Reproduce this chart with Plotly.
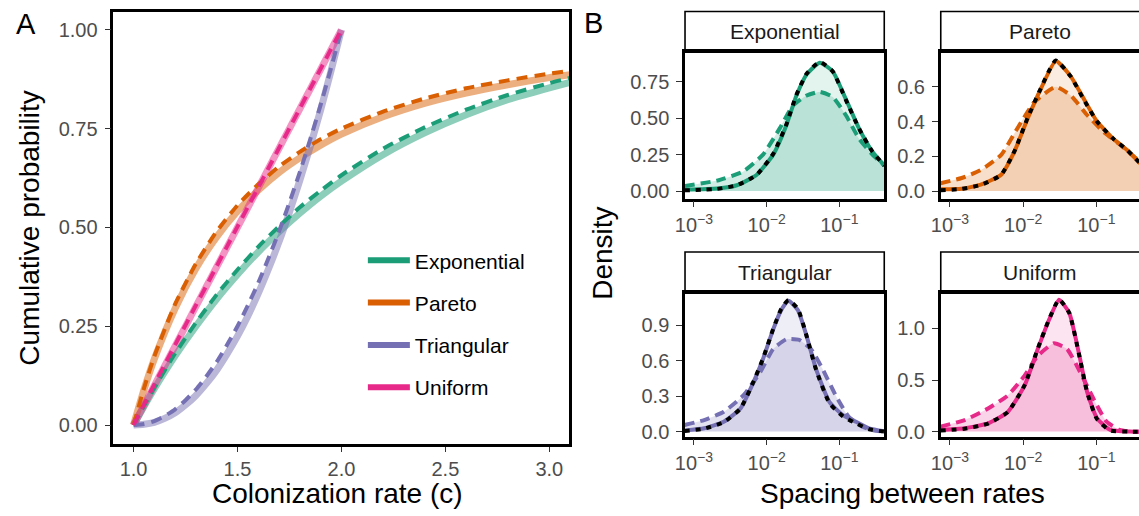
import plotly.graph_objects as go

# ---------------- Data ----------------
dists = ["Exponential", "Pareto", "Triangular", "Uniform"]
colors = {"Exponential": "#1B9E77", "Pareto": "#D95F02", "Triangular": "#7570B3", "Uniform": "#E7298A"}

# Panel A: cumulative probability vs colonization rate
a_x_long = [1.0, 1.05, 1.1, 1.2, 1.3, 1.4, 1.5, 1.6, 1.7, 1.8, 1.9, 2.0, 2.2, 2.4, 2.6, 2.8, 3.0, 3.1]
exp_cdf_theory = [0.0, 0.047, 0.092, 0.175, 0.250, 0.319, 0.381, 0.438, 0.489, 0.536, 0.579, 0.617, 0.684, 0.739, 0.785, 0.823, 0.853, 0.867]
exp_cdf_sample = [0.0, 0.049, 0.095, 0.181, 0.259, 0.330, 0.393, 0.451, 0.503, 0.551, 0.593, 0.632, 0.699, 0.753, 0.798, 0.835, 0.865, 0.878]
par_cdf_theory = [0.0, 0.089, 0.167, 0.295, 0.396, 0.476, 0.541, 0.594, 0.639, 0.676, 0.708, 0.736, 0.780, 0.814, 0.840, 0.861, 0.879, 0.886]
par_cdf_sample = [0.0, 0.093, 0.174, 0.306, 0.408, 0.490, 0.556, 0.609, 0.654, 0.691, 0.723, 0.750, 0.793, 0.826, 0.852, 0.872, 0.889, 0.896]

a_x_short = [1.0, 1.05, 1.1, 1.15, 1.2, 1.25, 1.3, 1.35, 1.4, 1.45, 1.5, 1.55, 1.6, 1.65, 1.7, 1.75, 1.8, 1.85, 1.9, 1.95, 2.0]
tri_cdf_theory = [0.0, 0.002, 0.007, 0.017, 0.031, 0.051, 0.075, 0.105, 0.139, 0.180, 0.225, 0.276, 0.333, 0.396, 0.464, 0.539, 0.619, 0.705, 0.797, 0.896, 1.0]
tri_cdf_sample = [0.0, 0.003, 0.010, 0.023, 0.040, 0.063, 0.090, 0.123, 0.160, 0.203, 0.250, 0.303, 0.360, 0.423, 0.490, 0.563, 0.640, 0.723, 0.810, 0.903, 1.0]
uni_cdf_theory = [0.0, 0.05, 0.10, 0.15, 0.20, 0.25, 0.30, 0.35, 0.40, 0.45, 0.50, 0.55, 0.60, 0.65, 0.70, 0.75, 0.80, 0.85, 0.90, 0.95, 1.0]
uni_cdf_sample = [0.0, 0.052, 0.103, 0.153, 0.203, 0.253, 0.303, 0.352, 0.402, 0.452, 0.502, 0.552, 0.601, 0.651, 0.701, 0.751, 0.801, 0.851, 0.901, 0.951, 1.0]

# Panel B: density of spacing between rates (log10 of spacing)
exp_log_s = [-3.13, -2.68, -2.41, -2.14, -1.91, -1.73, -1.59, -1.45, -1.27, -1.09, -0.91, -0.73, -0.545, -0.38]
exp_dens_theory = [0.01, 0.018, 0.04, 0.11, 0.25, 0.45, 0.655, 0.80, 0.88, 0.82, 0.63, 0.43, 0.27, 0.175]
exp_dens_ref = [0.005, 0.015, 0.04, 0.11, 0.255, 0.455, 0.66, 0.805, 0.885, 0.82, 0.625, 0.43, 0.27, 0.175]
exp_log_e = [-3.13, -2.68, -2.32, -2.05, -1.82, -1.64, -1.45, -1.27, -1.09, -0.91, -0.73, -0.545, -0.38]
exp_dens_sample = [0.035, 0.072, 0.135, 0.25, 0.43, 0.585, 0.655, 0.68, 0.645, 0.52, 0.36, 0.25, 0.175]

par_log_s = [-3.13, -2.84, -2.57, -2.30, -2.12, -1.94, -1.76, -1.555, -1.35, -1.17, -0.99, -0.765, -0.58, -0.38]
par_dens_theory = [0.01, 0.013, 0.038, 0.094, 0.227, 0.416, 0.587, 0.748, 0.66, 0.53, 0.40, 0.30, 0.236, 0.15]
par_dens_ref = [0.005, 0.012, 0.036, 0.094, 0.228, 0.42, 0.59, 0.752, 0.66, 0.525, 0.40, 0.30, 0.236, 0.15]
par_log_e = [-3.13, -2.84, -2.57, -2.30, -2.08, -1.85, -1.555, -1.35, -1.12, -0.90, -0.67, -0.38]
par_dens_sample = [0.045, 0.075, 0.123, 0.208, 0.36, 0.51, 0.60, 0.55, 0.435, 0.34, 0.265, 0.16]

tri_log_s = [-3.13, -2.86, -2.59, -2.36, -2.18, -2.05, -1.91, -1.80, -1.70, -1.57, -1.45, -1.32, -1.135, -0.95, -0.77, -0.59, -0.38]
tri_dens_theory = [0.01, 0.028, 0.084, 0.196, 0.42, 0.615, 0.867, 1.03, 1.11, 1.03, 0.81, 0.53, 0.25, 0.14, 0.084, 0.028, 0.003]
tri_dens_ref = [0.005, 0.025, 0.08, 0.196, 0.425, 0.62, 0.87, 1.04, 1.115, 1.04, 0.81, 0.525, 0.24, 0.13, 0.07, 0.02, 0.0]
tri_log_e = [-3.13, -2.86, -2.59, -2.32, -2.09, -1.91, -1.73, -1.55, -1.39, -1.23, -1.05, -0.87, -0.68, -0.5, -0.38]
tri_dens_sample = [0.056, 0.098, 0.168, 0.307, 0.503, 0.70, 0.783, 0.777, 0.70, 0.53, 0.307, 0.126, 0.042, 0.006, 0.003]

uni_log_s = [-3.13, -2.80, -2.48, -2.21, -1.98, -1.80, -1.645, -1.51, -1.37, -1.24, -1.125, -0.99, -0.81, -0.54, -0.38]
uni_dens_theory = [0.016, 0.032, 0.08, 0.19, 0.447, 0.80, 1.086, 1.278, 1.15, 0.766, 0.383, 0.128, 0.016, 0.0, 0.0]
uni_dens_ref = [0.01, 0.028, 0.078, 0.19, 0.45, 0.805, 1.09, 1.28, 1.15, 0.76, 0.38, 0.12, 0.01, 0.0, 0.0]
uni_log_e = [-3.13, -2.80, -2.48, -2.21, -1.98, -1.80, -1.58, -1.40, -1.22, -1.04, -0.86, -0.68, -0.54, -0.38]
uni_dens_sample = [0.048, 0.112, 0.224, 0.35, 0.543, 0.735, 0.856, 0.80, 0.575, 0.32, 0.096, 0.016, 0.0, 0.0]

cdf_data = {
    "Exponential": (a_x_long, exp_cdf_theory, a_x_long, exp_cdf_sample),
    "Pareto": (a_x_long, par_cdf_theory, a_x_long, par_cdf_sample),
    "Triangular": (a_x_short, tri_cdf_theory, a_x_short, tri_cdf_sample),
    "Uniform": (a_x_short, uni_cdf_theory, a_x_short, uni_cdf_sample),
}
dens_data = {
    "Exponential": (exp_log_s, exp_dens_theory, exp_dens_ref, exp_log_e, exp_dens_sample),
    "Pareto": (par_log_s, par_dens_theory, par_dens_ref, par_log_e, par_dens_sample),
    "Triangular": (tri_log_s, tri_dens_theory, tri_dens_ref, tri_log_e, tri_dens_sample),
    "Uniform": (uni_log_s, uni_dens_theory, uni_dens_ref, uni_log_e, uni_dens_sample),
}
b_yticks = {
    "Exponential": ([0, 0.25, 0.5, 0.75], ["0.00", "0.25", "0.50", "0.75"], [-0.052, 0.953]),
    "Pareto": ([0, 0.2, 0.4, 0.6], ["0.0", "0.2", "0.4", "0.6"], [-0.044, 0.80]),
    "Triangular": ([0, 0.3, 0.6, 0.9], ["0.0", "0.3", "0.6", "0.9"], [-0.042, 1.173]),
    "Uniform": ([0, 0.5, 1.0], ["0.0", "0.5", "1.0"], [-0.048, 1.341]),
}
b_xtickvals = [0.001, 0.01, 0.1]
b_xticktext = ["10<sup>−3</sup>", "10<sup>−2</sup>", "10<sup>−1</sup>"]
a_xtickvals = [1.0, 1.5, 2.0, 2.5, 3.0]
a_xticktext = ["1.0", "1.5", "2.0", "2.5", "3.0"]
a_ytickvals = [0, 0.25, 0.5, 0.75, 1.0]
a_yticktext = ["0.00", "0.25", "0.50", "0.75", "1.00"]

# ---------------- Helpers ----------------
W, H = 1139, 516
def px(x):
    return x / W
def py(y):
    return 1 - y / H

def rgba(hexc, a):
    h = hexc.lstrip("#")
    r, g, b = int(h[0:2], 16), int(h[2:4], 16), int(h[4:6], 16)
    return f"rgba({r},{g},{b},{a})"

FONT = "Liberation Sans, Arial, sans-serif"
TICKC = "#4D4D4D"
TICK_FS = 20
TITLE_FS = 28
STRIP_FS = 21

fig = go.Figure()

# ---------- Panel A ----------
for d in dists:
    xs, ys, _, _ = cdf_data[d]
    fig.add_trace(go.Scatter(x=xs, y=ys, mode="lines", line=dict(color=rgba(colors[d], 0.5), width=7, shape="spline", smoothing=0.6),
                             showlegend=False, hoverinfo="skip", xaxis="x", yaxis="y"))
for d in dists:
    _, _, xe, ye = cdf_data[d]
    fig.add_trace(go.Scatter(x=xe, y=ye, mode="lines", line=dict(color=colors[d], width=4, dash="11px,7px", shape="spline", smoothing=0.6),
                             showlegend=False, hoverinfo="skip", xaxis="x", yaxis="y"))
for d in dists:
    fig.add_trace(go.Scatter(x=[None], y=[None], mode="lines", line=dict(color=colors[d], width=6),
                             name=d, legendgroup=d, showlegend=True, xaxis="x", yaxis="y"))

# ---------- Panel B ----------
col_dom = [[px(681), px(882)], [px(939), 1.0]]
row_dom = [[py(201), py(52.7)], [py(441.7), py(296.7)]]
strip_dom = [[py(52.7), py(11.7)], [py(296.7), py(255)]]
x_ranges = [[-3.123, -0.382], [-3.126, -0.417]]

layout_axes = {}
shapes = []
annotations = []
for k, d in enumerate(dists):
    r, c = divmod(k, 2)
    ax_i = k + 2
    xa, ya = f"x{ax_i}", f"y{ax_i}"
    ls, yt, yr, le, ys = dens_data[d]
    xs_t = [10 ** v for v in ls]
    xs_e = [10 ** v for v in le]
    col = colors[d]
    fig.add_trace(go.Scatter(x=xs_t, y=yt, mode="lines", fill="tozeroy", fillcolor=rgba(col, 0.12),
                             line=dict(width=0, shape="spline", smoothing=0.5), showlegend=False, hoverinfo="skip", xaxis=xa, yaxis=ya))
    fig.add_trace(go.Scatter(x=xs_e, y=ys, mode="lines", fill="tozeroy", fillcolor=rgba(col, 0.2),
                             line=dict(width=0, shape="spline", smoothing=0.5), showlegend=False, hoverinfo="skip", xaxis=xa, yaxis=ya))
    fig.add_trace(go.Scatter(x=xs_t, y=yt, mode="lines", line=dict(color=col, width=4, shape="spline", smoothing=0.5),
                             showlegend=False, hoverinfo="skip", xaxis=xa, yaxis=ya))
    fig.add_trace(go.Scatter(x=xs_e, y=ys, mode="lines", line=dict(color=col, width=4, dash="10px,6px", shape="spline", smoothing=0.5),
                             showlegend=False, hoverinfo="skip", xaxis=xa, yaxis=ya))
    fig.add_trace(go.Scatter(x=xs_t, y=yr, mode="lines", line=dict(color="black", width=4, dash="5px,6px", shape="spline", smoothing=0.5),
                             showlegend=False, hoverinfo="skip", xaxis=xa, yaxis=ya))

    tv, tt, rng = b_yticks[d]
    layout_axes[f"xaxis{ax_i}"] = dict(
        domain=col_dom[c], anchor=ya, type="log", range=x_ranges[c],
        tickvals=b_xtickvals, ticktext=b_xticktext, ticks="outside", ticklen=6, tickwidth=1.2, tickcolor="#333333",
        showline=True, linecolor="black", linewidth=2.5, mirror=True, showgrid=False, zeroline=False,
        tickfont=dict(family=FONT, size=TICK_FS, color=TICKC), ticklabelstandoff=1,
    )
    layout_axes[f"yaxis{ax_i}"] = dict(
        domain=row_dom[r], anchor=xa, range=rng, tickvals=tv, ticktext=tt,
        ticks="outside", ticklen=6, tickwidth=1.2, tickcolor="#333333",
        showline=True, linecolor="black", linewidth=2.5, mirror=(c == 0), showgrid=False, zeroline=False,
        tickfont=dict(family=FONT, size=TICK_FS, color=TICKC), ticklabelstandoff=3,
    )
    # strip
    x0, x1 = col_dom[c]
    if c == 1:
        x1 = 1.01
    y0, y1 = strip_dom[r]
    shapes.append(dict(type="rect", xref="paper", yref="paper", x0=x0, x1=x1, y0=y0, y1=y1,
                       line=dict(color="black", width=1.6), fillcolor="white", layer="below"))
    annotations.append(dict(text=d, xref="paper", yref="paper",
                            x=(col_dom[c][0] + col_dom[c][1]) / 2 if c == 0 else (x0 + px(1140)) / 2,
                            y=(y0 + y1) / 2, showarrow=False, xanchor="center", yanchor="middle",
                            font=dict(family=FONT, size=STRIP_FS, color="#1A1A1A")))

# titles & panel labels
annotations += [
    dict(text="A", xref="paper", yref="paper", x=px(16), y=py(24), showarrow=False, xanchor="center", yanchor="middle",
         font=dict(family=FONT, size=29, color="black")),
    dict(text="B", xref="paper", yref="paper", x=px(589), y=py(23), showarrow=False, xanchor="center", yanchor="middle",
         font=dict(family=FONT, size=29, color="black")),
    dict(text="Cumulative probability", xref="paper", yref="paper", x=px(20), y=py(230.5), showarrow=False, textangle=-90,
         xanchor="center", yanchor="middle", font=dict(family=FONT, size=TITLE_FS, color="black")),
    dict(text="Colonization rate (c)", xref="paper", yref="paper", x=px(330), y=py(499), showarrow=False,
         xanchor="center", yanchor="middle", font=dict(family=FONT, size=TITLE_FS, color="black")),
    dict(text="Density", xref="paper", yref="paper", x=px(597), y=py(256), showarrow=False, textangle=-90,
         xanchor="center", yanchor="middle", font=dict(family=FONT, size=TITLE_FS, color="black")),
    dict(text="Spacing between rates", xref="paper", yref="paper", x=px(900), y=py(499), showarrow=False,
         xanchor="center", yanchor="middle", font=dict(family=FONT, size=TITLE_FS, color="black")),
]

fig.update_layout(
    width=W, height=H, margin=dict(l=0, r=0, t=0, b=0),
    paper_bgcolor="white", plot_bgcolor="white",
    font=dict(family=FONT),
    xaxis=dict(domain=[px(104.3), px(564)], anchor="y", range=[0.903, 3.095],
               tickvals=a_xtickvals, ticktext=a_xticktext,
               ticks="outside", ticklen=5, tickwidth=1.2, tickcolor="#333333",
               showline=True, linecolor="black", linewidth=2.5, mirror=True, showgrid=False, zeroline=False,
               tickfont=dict(family=FONT, size=TICK_FS, color=TICKC), ticklabelstandoff=0),
    yaxis=dict(domain=[py(449.3), py(11.7)], anchor="x", range=[-0.048, 1.046],
               tickvals=a_ytickvals, ticktext=a_yticktext,
               ticks="outside", ticklen=6, tickwidth=1.2, tickcolor="#333333",
               showline=True, linecolor="black", linewidth=2.5, mirror=True, showgrid=False, zeroline=False,
               tickfont=dict(family=FONT, size=TICK_FS, color=TICKC), ticklabelstandoff=3),
    legend=dict(x=px(356), y=py(243), xanchor="left", yanchor="top", bgcolor="rgba(0,0,0,0)",
                font=dict(family=FONT, size=21, color="black"), tracegroupgap=12, traceorder="grouped",
                itemwidth=42),
    shapes=shapes, annotations=annotations,
    **layout_axes,
)

fig.write_html("out.html")
